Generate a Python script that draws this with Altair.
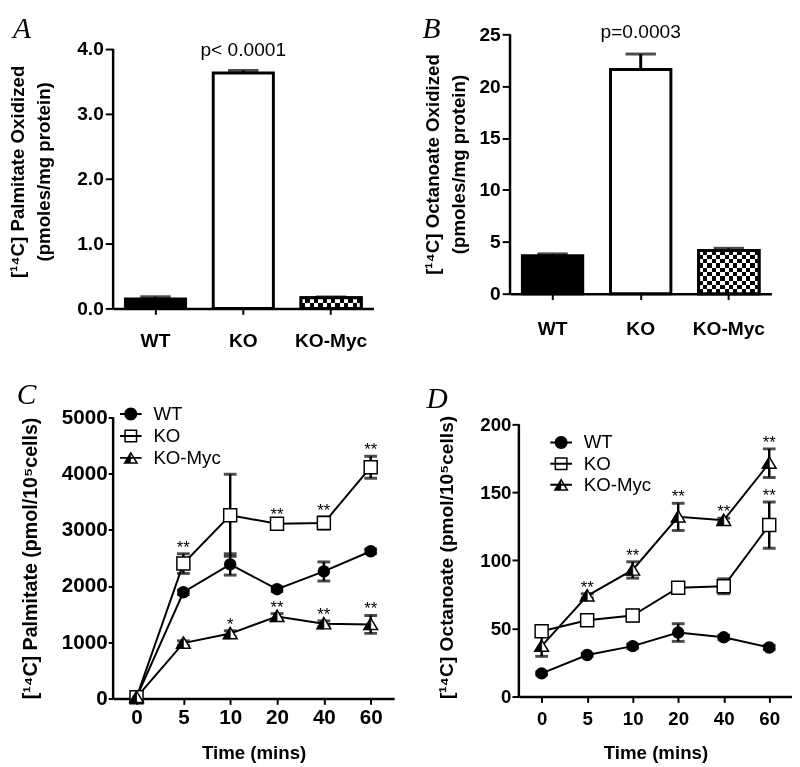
import altair as alt
import pandas as pd

# ---------------- data ----------------
groups = ["WT", "KO", "KO-Myc"]
palm_ox = [0.145, 3.63, 0.165]
palm_ox_err = [0.035, 0.04, 0.012]
oct_ox = [3.65, 21.6, 4.17]
oct_ox_err = [0.19, 1.5, 0.21]

times = ["0", "5", "10", "20", "40", "60"]
series = ["WT", "KO", "KO-Myc"]

palm_wt = [20, 1890, 2385, 1945, 2260, 2620]
palm_wt_err = [30, 40, 190, 40, 170, 40]
palm_ko = [20, 2400, 3260, 3110, 3122, 4115]
palm_ko_err = [30, 175, 730, 40, 110, 195]
palm_myc = [20, 985, 1155, 1460, 1330, 1318]
palm_myc_err = [30, 40, 50, 50, 50, 160]
palm_wt_sig = ["", "", "", "", "", ""]
palm_ko_sig = ["", "**", "", "**", "**", "**"]
palm_myc_sig = ["", "", "*", "**", "**", "**"]

oct_wt = [17, 30.5, 37, 47, 43.5, 36]
oct_wt_err = [1, 1, 1.5, 6.5, 1.5, 1.5]
oct_ko = [48, 56, 59.5, 80, 81, 126]
oct_ko_err = [3, 1.5, 4, 1.5, 5.5, 17]
oct_myc = [37, 74, 93, 132, 129.5, 171.5]
oct_myc_err = [7.5, 1.5, 6, 10, 1.5, 10.5]
oct_wt_sig = ["", "", "", "", "", ""]
oct_ko_sig = ["", "", "", "", "", "**"]
oct_myc_sig = ["", "**", "**", "**", "**", "**"]

FONT = "Liberation Sans"
SERIF = "Liberation Serif"

# marker shapes (unit box -1..1)
TRI = "M0,-0.9L1,0.75L-1,0.75Z"
TRI_HALF = "M0,-0.9L0,0.75L-1,0.75Z"
# legend symbols built only from filled areas (line + marker)
BAR = "M-1,-0.09L1,-0.09L1,0.09L-1,0.09Z"
LEG_WT = BAR + "M-0.6,0A0.6,0.6 0 1,1 0.6,0A0.6,0.6 0 1,1 -0.6,0Z"
LEG_KO = (BAR + "M-0.6,-0.6L0.6,-0.6L0.6,0.6L-0.6,0.6Z"
          "M-0.46,-0.46L-0.46,0.46L0.46,0.46L0.46,-0.46Z")
LEG_MYC = (BAR + "M0,-0.6L0.7,0.55L-0.7,0.55Z"
           "M0,-0.331L-0.451,0.41L0.451,0.41Z"
           "M0,-0.6L0,0.55L-0.7,0.55Z")


def stripes(n, horizontal):
    stops = []
    for i in range(n):
        if horizontal:
            c = "black" if i % 2 == 0 else "white"
        else:
            c = "white" if i % 2 == 0 else "rgba(255,255,255,0)"
        stops.append(alt.GradientStop(offset=i / n, color=c))
        stops.append(alt.GradientStop(offset=(i + 1) / n, color=c))
    if horizontal:
        return alt.LinearGradient(gradient="linear", stops=stops, x1=0, x2=0, y1=0, y2=1)
    return alt.LinearGradient(gradient="linear", stops=stops, x1=0, x2=1, y1=0, y2=0)


def letter_layer(letter, lx, ly):
    return alt.Chart(pd.DataFrame({"t": [letter]})).mark_text(
        font=SERIF, fontStyle="italic", fontSize=30, align="left", baseline="alphabetic", color="black"
    ).encode(x=alt.value(lx), y=alt.value(ly), text="t:N")


def bar_panel(vals, errs, ytitle, ymax, scale_max, yticks, yfmt, ptext, pdy, letter, lx, ly,
              rows, width, height, title_pad, label_pad):
    df = pd.DataFrame({"group": groups, "value": vals, "err": errs})
    base = alt.Chart(df).transform_calculate(top="datum.value + datum.err")
    xs = alt.Scale(domain=groups, paddingInner=0.315, paddingOuter=0.14)
    xa = alt.Axis(title=None, labelAngle=0, labelFontSize=19.5, labelPadding=label_pad, tickSize=6)
    ys = alt.Scale(domain=[0, scale_max], nice=False)
    ya = alt.Axis(values=yticks, format=yfmt, title=ytitle, titleFontSize=19, titleLineHeight=26,
                  titlePadding=title_pad, labelFontSize=19.5, tickSize=8, labelPadding=2, domain=False)
    X = alt.X("group:N", scale=xs, axis=xa)

    def Y(f):
        return alt.Y(f, scale=ys, axis=ya)

    yline = alt.Chart(pd.DataFrame({"lo": [0], "hi": [ymax]})).mark_rule(
        color="black", strokeWidth=2.5).encode(x=alt.value(0), y=Y("lo:Q"), y2="hi:Q")
    err = base.mark_rule(color="black", strokeWidth=3).encode(x=X, y=Y("value:Q"), y2="top:Q")
    cap = base.mark_tick(color="black", size=31, thickness=3).encode(x=X, y=Y("top:Q"))
    bars = base.mark_bar(stroke="black", strokeWidth=3).encode(
        x=X, y=Y("value:Q"),
        fill=alt.Fill("group:N", scale=alt.Scale(domain=groups, range=["black", "white", "white"]), legend=None))
    myc = base.transform_filter(alt.datum.group == "KO-Myc")
    pat1 = myc.mark_bar(fill=stripes(rows, True)).encode(x=X, y=Y("value:Q"))
    pat2 = myc.mark_bar(fill=stripes(14, False), blend="difference").encode(x=X, y=Y("value:Q"))
    outline = myc.mark_bar(fillOpacity=0, stroke="black", strokeWidth=3).encode(x=X, y=Y("value:Q"))
    ptxt = alt.Chart(pd.DataFrame({"group": ["KO"], "label": [ptext], "pos": [ymax]})).mark_text(
        font=FONT, fontSize=19.5, baseline="middle", dy=pdy, color="black"
    ).encode(x=X, y=Y("pos:Q"), text="label:N")
    return alt.layer(yline, err, cap, bars, pat1, pat2, outline, ptxt, letter_layer(letter, lx, ly)).properties(
        width=width, height=height)


def line_panel(means, errs, sigs, ytitle, ymax, scale_max, yticks, letter, lx, ly, width, height,
               legx, legy, legrowpad, leglabeloff, ytick, ytitle_pad, ytitle_size, tick_label_size,
               xlabel_pad, xtitle_pad):
    recs = []
    for s, m, e, g in zip(series, means, errs, sigs):
        for t, mv, ev, sg in zip(times, m, e, g):
            recs.append({"series": s, "time": t, "mean": mv, "err": ev, "sig": sg})
    df = pd.DataFrame(recs)
    base = alt.Chart(df).transform_calculate(lo="datum.mean - datum.err", hi="datum.mean + datum.err")
    xs = alt.Scale(type="point", domain=times, padding=0.5)
    xa = alt.Axis(title="Time (mins)", labelAngle=0, labelFontSize=tick_label_size, titleFontSize=19,
                  labelPadding=xlabel_pad, tickSize=6, titlePadding=xtitle_pad)
    ys = alt.Scale(domain=[0, scale_max], nice=False)
    ya = alt.Axis(values=yticks, format="d", title=ytitle, titleFontSize=ytitle_size,
                  titlePadding=ytitle_pad, labelFontSize=tick_label_size, tickSize=ytick, labelPadding=1,
                  domain=False)
    X = alt.X("time:O", scale=xs, axis=xa)

    def Y(f):
        return alt.Y(f, scale=ys, axis=ya)

    yline = alt.Chart(pd.DataFrame({"lo": [0], "hi": [ymax]})).mark_rule(
        color="black", strokeWidth=2.5).encode(x=alt.value(0), y=Y("lo:Q"), y2="hi:Q")
    # legend carrier layer: small symbols hidden beneath the real markers
    leg = base.mark_point(filled=True, fill="black", strokeWidth=0, opacity=1).encode(
        x=X, y=Y("mean:Q"),
        shape=alt.Shape("series:N", scale=alt.Scale(domain=series, range=[LEG_WT, LEG_KO, LEG_MYC]),
                        legend=alt.Legend(orient="none", legendX=legx, legendY=legy, title=None,
                                          symbolSize=484, symbolFillColor="black",
                                          symbolStrokeWidth=0, labelFontSize=19,
                                          labelFont=FONT, labelColor="black", rowPadding=legrowpad,
                                          labelOffset=leglabeloff, padding=0)))
    line = base.mark_line(color="black", strokeWidth=2).encode(x=X, y=Y("mean:Q"), detail="series:N")
    err = base.mark_rule(color="black", strokeWidth=2.5).encode(x=X, y=Y("lo:Q"), y2="hi:Q")
    cap_hi = base.mark_tick(color="black", size=13, thickness=3).encode(x=X, y=Y("hi:Q"))
    cap_lo = base.mark_tick(color="black", size=13, thickness=3).encode(x=X, y=Y("lo:Q"))
    wt = base.transform_filter(alt.datum.series == "WT").mark_point(
        shape="circle", filled=True, color="black", size=160, opacity=1).encode(x=X, y=Y("mean:Q"))
    ko = base.transform_filter(alt.datum.series == "KO").mark_point(
        shape="square", filled=True, fill="white", stroke="black", strokeWidth=1.5, size=175, opacity=1
    ).encode(x=X, y=Y("mean:Q"))
    myc_o = base.transform_filter(alt.datum.series == "KO-Myc").mark_point(
        shape=TRI, filled=True, fill="white", stroke="black", strokeWidth=1.5, size=196, opacity=1
    ).encode(x=X, y=Y("mean:Q"))
    myc_h = base.transform_filter(alt.datum.series == "KO-Myc").mark_point(
        shape=TRI_HALF, filled=True, fill="black", stroke="black", strokeWidth=0.8, size=196, opacity=1
    ).encode(x=X, y=Y("mean:Q"))
    stars = base.transform_filter(alt.datum.sig != "").mark_text(
        font=FONT, fontSize=17, baseline="alphabetic", dy=-1, color="black"
    ).encode(x=X, y=Y("hi:Q"), text="sig:N")
    return alt.layer(leg, yline, line, err, cap_hi, cap_lo, wt, ko, myc_o, myc_h, stars,
                     letter_layer(letter, lx, ly)).properties(width=width, height=height)


A = bar_panel(palm_ox, palm_ox_err, ["[¹⁴C] Palmitate Oxidized", "(pmoles/mg protein)"],
              4.0, 4.0 * 279 / 264, [0, 1, 2, 3, 4], ".1f", "p< 0.0001", 1, "A", -102, 4, 2, 265, 279, 24, 18)
B = bar_panel(oct_ox, oct_ox_err, ["[¹⁴C] Octanoate Oxidized", "(pmoles/mg protein)"],
              25, 25, [0, 5, 10, 15, 20, 25], "d", "p=0.0003", -2, "B", -89, 4, 10, 266, 264, 11, 21)
C = line_panel([palm_wt, palm_ko, palm_myc], [palm_wt_err, palm_ko_err, palm_myc_err],
               [palm_wt_sig, palm_ko_sig, palm_myc_sig], "[¹⁴C] Palmitate (pmol/10⁵cells)",
               5000, 5000, [0, 1000, 2000, 3000, 4000, 5000], "C", -98, -14, 286, 286,
               7, -14.5, 1.3, 12, 5, 21, 20, 21, 2, 17)
D = line_panel([oct_wt, oct_ko, oct_myc], [oct_wt_err, oct_ko_err, oct_myc_err],
               [oct_wt_sig, oct_ko_sig, oct_myc_sig], "[¹⁴C] Octanoate (pmol/10⁵cells)",
               200, 200 * 284 / 277, [0, 50, 100, 150, 200], "D", -94, -10, 278, 284,
               32, 14.5, 0.5, 12, 7, 24, 19.5, 19, 8, 15)

bottom = alt.hconcat(C, D, spacing=33).resolve_scale(shape="independent").resolve_legend(shape="independent")
top = alt.hconcat(A, B, spacing=50)

chart = alt.ConcatChart(concat=[top, bottom], columns=1, align="none", spacing=30).resolve_scale(
    shape="independent").resolve_legend(shape="independent").properties(padding=0).configure_view(
    stroke=None).configure_axis(
    domainColor="black", domainWidth=2.5, tickColor="black", tickWidth=2,
    labelColor="black", titleColor="black", labelFont=FONT, titleFont=FONT,
    labelFontWeight="bold", titleFontWeight="bold", grid=False,
).configure_legend(labelFontWeight="normal")

chart.save("out.html", embed_options={"renderer": "svg", "actions": False})
